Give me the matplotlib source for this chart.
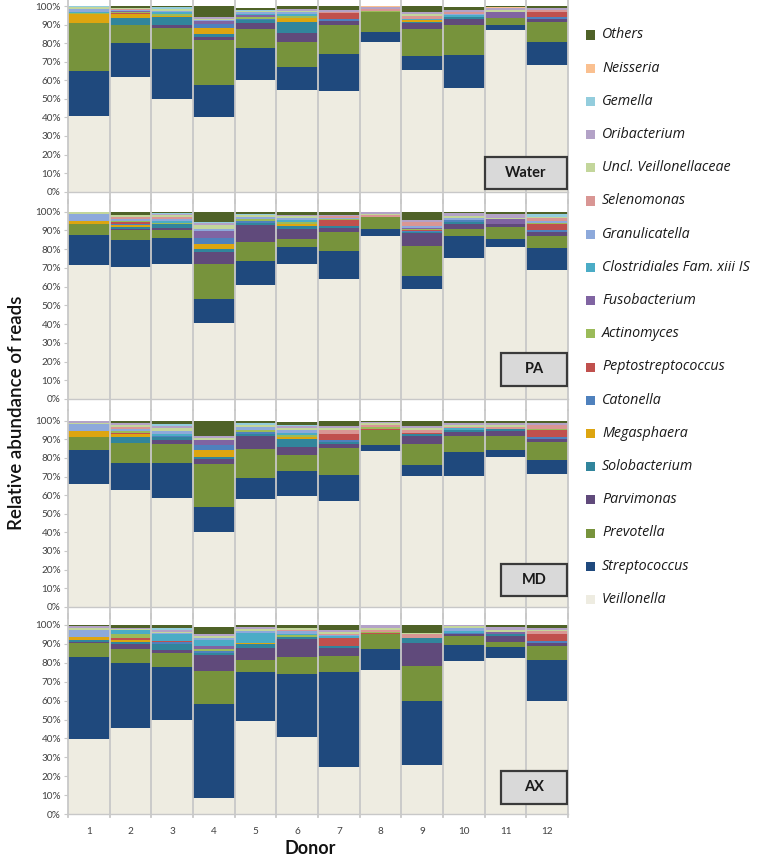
import matplotlib
matplotlib.use("Agg")
import matplotlib.pyplot as plt
from matplotlib.patches import Rectangle
import numpy as np

plt.rcParams['font.family'] = ['Lato', 'DejaVu Sans']

genera = ["Veillonella", "Streptococcus", "Prevotella", "Parvimonas", "Solobacterium",
          "Megasphaera", "Catonella", "Peptostreptococcus", "Actinomyces", "Fusobacterium",
          "Clostridiales Fam. xiii IS", "Granulicatella", "Selenomonas",
          "Uncl. Veillonellaceae", "Oribacterium", "Gemella", "Neisseria", "Others"]
colors = ["#EEECE1", "#1F497D", "#77933C", "#604A7B", "#31859C",
          "#DDA510", "#4F81BD", "#C0504D", "#9BBB59", "#8064A2",
          "#4BACC6", "#8DA9DB", "#D99694", "#C3D69B", "#B3A2C7",
          "#93CDDD", "#FAC090", "#4F6228"]
donors = [str(i) for i in range(1, 13)]
panel_names = ["Water", "PA", "MD", "AX"]

# rows = donors, columns = genera (stack order, bottom to top), in %
water = [
    [41, 24, 26, 0, 0, 4.5, 0, 0, 0.5, 0, 0.5, 2, 0, 1, 0, 0.5, 0, 0],
    [62, 18, 10, 0, 3.5, 2, 0, 0.5, 1, 0.5, 0, 0.5, 0.5, 0.5, 0, 0, 0, 1],
    [50, 27, 11, 1.5, 4.5, 0.5, 0, 0, 1, 0, 1, 1, 0, 1, 0, 1, 0, 0.5],
    [40, 17.5, 24.2, 1.8, 1.5, 3, 2.2, 0, 0, 1.5, 0, 0.5, 0, 1, 1.1, 0, 0, 5.7],
    [60, 17.5, 10, 3.5, 1.5, 0, 0.5, 0, 1, 1, 0.5, 1, 0, 1, 0, 0.5, 0, 1],
    [55, 12, 13.5, 5, 6, 2, 0, 0, 1, 0, 1, 1, 0, 1, 1, 0, 0, 1.5],
    [54, 20, 16, 2, 0, 0, 1, 3, 0, 0, 0, 0, 1, 0, 1, 0, 0, 2],
    [80.5, 5.5, 10.5, 0, 0, 0, 0, 0.5, 0.5, 0, 0, 0, 1, 0, 1, 0, 0.5, 0],
    [65.5, 7.5, 14.5, 3.5, 0.5, 1, 0, 0, 0, 0, 0.5, 0, 1.5, 1, 1, 0, 0, 3.5],
    [56, 17.5, 16.5, 3, 1, 0, 0, 0, 0, 0, 1, 0.5, 1, 0.5, 1, 0, 0, 1.5],
    [87, 3, 3.5, 0, 0, 0, 0, 0, 0, 3, 0, 0.5, 0, 1, 1, 0, 0.5, 0.5],
    [68, 12.5, 11, 1.5, 0, 0, 1, 3, 0, 0, 0, 0, 1, 0, 1, 0, 0, 1],
]
pa = [
    [71.5, 16, 6, 0, 0, 1.5, 0, 0, 0, 0, 0, 4, 0, 1, 0, 0, 0, 0],
    [70.5, 14.5, 5, 1, 1, 1, 0.5, 1, 0.5, 0, 0, 1, 1, 1, 0, 0.5, 0, 1.5],
    [72, 14, 4, 1.5, 2, 0, 0, 0, 0.5, 0, 1, 1, 1, 1, 1, 0.5, 0, 0.5],
    [40.5, 13, 18.4, 6.4, 1.6, 2.7, 3.6, 0, 0, 3.5, 0, 1, 0, 2, 1.1, 0.9, 0, 5.3],
    [61, 12.5, 10.5, 9, 1, 0, 1, 0, 1, 0, 0, 1, 0, 1, 0, 1, 0, 1],
    [72, 9, 4.5, 5.5, 1.5, 1, 0, 0, 1, 0, 1, 1, 0, 1, 1, 0, 0, 1.5],
    [64, 15, 10, 2.5, 1, 0, 0, 3, 0.5, 0, 0, 0.5, 1, 0, 1, 0, 0, 1.5],
    [87, 4, 6, 0, 0, 0, 0, 0, 0, 0, 0, 0, 1, 1, 1, 0, 0, 0],
    [58.5, 7, 16, 7, 0.5, 0, 0.5, 0.5, 0.5, 1, 0, 1, 2, 0, 1, 0, 0, 4.5],
    [75.5, 11.5, 4, 2.5, 1, 0, 1, 0, 0, 0, 0, 1, 0, 1, 2, 0, 0, 0.5],
    [81, 4.5, 6.5, 1.5, 0, 0, 0, 0, 0, 2.5, 0, 0, 0, 0.5, 2.5, 0, 0, 1],
    [69, 11.5, 6.5, 2, 0, 0, 1, 3.5, 0.5, 0, 0, 1, 1.5, 0.5, 0, 2, 0, 1],
]
md = [
    [66, 18.5, 6.5, 0, 0.5, 3, 0, 0, 0, 0, 0, 3.5, 0, 1, 1, 0, 0, 0],
    [63, 14.5, 10.5, 0, 3, 2, 0, 0.5, 1, 0, 0, 1, 1, 1, 1, 0, 0, 1.5],
    [58.5, 18.5, 10.5, 2, 1.5, 0, 1, 0, 0, 0, 1, 1.5, 0, 1.5, 1, 1, 0, 2],
    [40, 13.5, 23, 3, 1, 3.5, 3, 0, 0, 2.5, 0, 0, 0, 1, 1.5, 0, 0, 8],
    [58, 11, 16, 7, 1, 0, 1, 0, 1, 0, 0, 1.5, 0, 1, 0, 1, 0, 1.5],
    [59.5, 13.5, 8.5, 4.5, 4, 1.5, 0, 0, 1, 0, 1, 1.5, 0, 1, 1, 0.5, 0, 2],
    [57, 14, 14.5, 2, 1, 0, 1, 3.5, 0, 0, 0, 0, 2, 1, 1, 0, 0, 3],
    [83.5, 3.5, 8, 0, 0, 0, 0, 0.5, 1, 0, 0, 0, 1, 1, 1, 0, 0, 0.5],
    [70.5, 5.5, 11.5, 4.5, 1, 0, 0, 0.5, 0, 0, 0, 0, 1.5, 1, 1, 0, 0, 3],
    [70.5, 12.5, 9, 2, 1, 0, 0, 0, 0, 0, 1, 0, 0.5, 1, 1.5, 0, 0, 1],
    [80.5, 3.5, 8, 2.5, 1, 0, 0, 0, 0, 0, 0, 0, 1, 1, 1.5, 0, 0, 1],
    [71.5, 7.5, 9.5, 1.5, 0, 0, 1, 4, 0.5, 0, 0, 0, 2, 0, 1, 0, 0, 1.5],
]
ax_data = [
    [39.5, 43.5, 7.5, 0.5, 1, 1.5, 0, 0, 0, 0, 0, 4, 0, 1, 1, 0, 0, 0.5],
    [45.5, 34.5, 7.5, 2.5, 1, 1, 0, 1, 2, 0, 2.5, 0, 0, 0.5, 0.5, 0, 0, 1.5],
    [50, 28, 7, 2, 3, 0, 1, 0.5, 0, 0, 3.5, 1, 0, 0.5, 1, 1, 0, 1.5],
    [8.5, 49.5, 17.5, 8.5, 1, 0, 1.5, 0, 1, 1.5, 3, 1, 0, 1, 1, 0, 0, 4],
    [49, 26, 6.5, 6.5, 2, 0.5, 0, 0, 0, 0, 5.5, 1, 0, 1, 1, 0, 0, 1],
    [41, 33, 9, 9.5, 1, 0, 0, 0, 1, 0, 1, 1.5, 0.5, 1, 0, 0, 0, 1.5],
    [25, 50, 8.5, 4.5, 1, 0, 0, 4, 0, 0, 1, 0.5, 1, 1, 1, 0, 0, 2.5],
    [76, 11.5, 7.5, 0, 0, 0, 0, 1, 0.5, 0, 0, 0, 1, 1, 1.5, 0, 0, 0],
    [26, 34, 18.5, 12, 2.5, 0, 0, 0, 0, 0, 0, 0, 2.5, 0.5, 0, 0, 0, 4],
    [81, 8.5, 4.5, 1, 0, 0, 1, 0, 0, 0, 1, 1.5, 0, 1, 1.5, 0, 0, 0],
    [82.5, 6, 2.5, 3, 1, 0, 0, 0, 0, 1.5, 0, 0, 0, 1, 1.5, 0, 0, 1],
    [60, 21.5, 7.5, 1.5, 0, 0, 1, 3.5, 0, 0, 0, 0, 2, 0.5, 1, 0, 0, 1.5],
]
panels = [water, pa, md, ax_data]

W, H = 761, 858
fig = plt.figure(figsize=(W / 100, H / 100), dpi=100)

left_px, right_px = 68, 568
panel_px = [(6, 191.7), (211.7, 399), (420.7, 606.7), (625, 814)]
label_boxes = [(0.834, 0.015, 0.164, 0.172), (0.866, 0.07, 0.132, 0.176),
               (0.866, 0.057, 0.132, 0.173), (0.866, 0.055, 0.132, 0.175)]

grid_col = "#C8C8C8"
tick_col = "#404040"
x = np.arange(len(donors))

for pi, (data, name) in enumerate(zip(panels, panel_names)):
    top, bot = panel_px[pi]
    ax = fig.add_axes([left_px / W, 1 - bot / H, (right_px - left_px) / W, (bot - top) / H])
    arr = np.array(data, dtype=float).T
    bottom = np.zeros(len(donors))
    for gi in range(len(genera)):
        ax.bar(x, arr[gi], bottom=bottom, width=1.0, color=colors[gi],
               edgecolor='none', linewidth=0, zorder=2)
        bottom += arr[gi]
    ax.set_xlim(-0.5, len(donors) - 0.5)
    ax.set_ylim(0, 100)
    for b in np.arange(-0.5, len(donors) + 0.5, 1.0):
        ext = 0.06 if pi < 3 else 0.015
        ax.axvline(b, ymin=-ext, ymax=1.06 if pi > 0 else 1.03, color=grid_col,
                   lw=1.3, clip_on=False, zorder=3)
    for s in ['top', 'right', 'left']:
        ax.spines[s].set_visible(False)
    ax.spines['bottom'].set_color(grid_col)
    ax.spines['bottom'].set_linewidth(1.0)
    ax.set_yticks(np.arange(0, 101, 10))
    ax.set_yticklabels([f"{v}%" for v in range(0, 101, 10)], fontsize=7.2, color=tick_col)
    ax.tick_params(axis='y', length=3, color=grid_col, pad=2)
    ax.set_xticks(x)
    if pi == 3:
        ax.set_xticklabels(donors, fontsize=7.2, color=tick_col)
        ax.tick_params(axis='x', length=0, pad=9)
    else:
        ax.set_xticklabels([])
        ax.tick_params(axis='x', length=0)
    bx, by, bw, bh = label_boxes[pi]
    ax.add_patch(Rectangle((bx, by), bw, bh, transform=ax.transAxes, facecolor="#D9D9D9",
                           edgecolor="#3A3A3A", linewidth=1.6, zorder=5))
    ax.text(bx + bw / 2, by + bh / 2, name, transform=ax.transAxes, ha='center', va='center',
            fontsize=10.5, fontweight='bold', color="#1A1A1A", zorder=6)

# legend (top to bottom: reverse stack order)
leg_x_sq = 586 / W
leg_x_txt = 602 / W
y0, dy = 35, 33.2
for i, gi in enumerate(range(len(genera) - 1, -1, -1)):
    yc = y0 + i * dy
    fig.patches.append(Rectangle((leg_x_sq, 1 - (yc + 4.5) / H), 9 / W, 9 / H,
                                 transform=fig.transFigure, facecolor=colors[gi],
                                 edgecolor='none'))
    fig.text(leg_x_txt, 1 - yc / H, genera[gi], fontsize=10.3, style='italic',
             ha='left', va='center', color="#1A1A1A", family=['Open Sans', 'DejaVu Sans'])

fig.text(17 / W, 1 - 413 / H, "Relative abundance of reads", rotation=90, ha='center',
         va='center', fontsize=13.5, fontweight='semibold', color="#111111")
fig.text(310 / W, 1 - 849 / H, "Donor", ha='center', va='center', fontsize=13,
         fontweight='bold', color="#111111")

fig.savefig("out.png", dpi=100)
